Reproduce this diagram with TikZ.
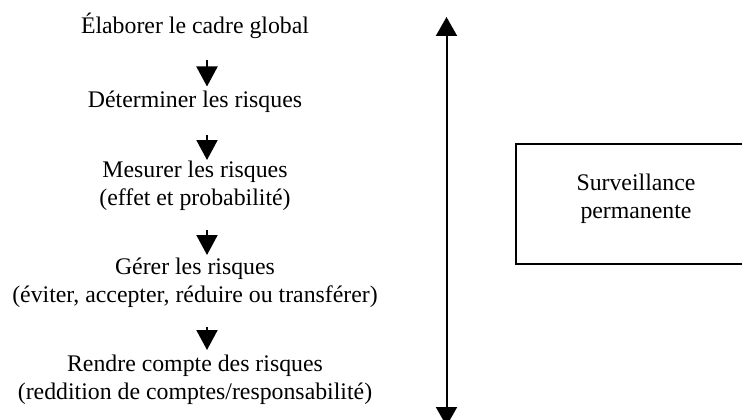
\documentclass[tikz,border=0pt]{standalone}
\usepackage{fontspec}
\setmainfont{Liberation Serif}
\usetikzlibrary{arrows.meta,calc}

\tikzset{
  stage/.style={inner sep=0pt, align=center, anchor=base,
    font=\fontsize{23.8}{28}\selectfont},
  flow/.style={line width=2pt, -{Triangle[width=21pt,length=20pt]}},
  cycle/.style={line width=2pt,
    {Triangle[width=21pt,length=19pt]}-{Triangle[width=21pt,length=19pt]}},
  framebox/.style={draw, line width=2pt}
}

\begin{document}
\begin{tikzpicture}[x=1pt,y=-1pt]
  \useasboundingbox (0,0) rectangle (742,420);
  \clip (0,0) rectangle (742,420);

  % process steps (base anchor sits on the last line)
  \node[stage] (s1) at (195,34)  {Élaborer le cadre global};
  \node[stage] (s2) at (195,107) {Déterminer les risques};
  \node[stage] (s3) at (195,205) {Mesurer les risques\\(effet et probabilité)};
  \node[stage] (s4) at (195,302) {Gérer les risques\\(éviter, accepter, réduire ou transférer)};
  \node[stage] (s5) at (195,399) {Rendre compte des risques\\(reddition de comptes/responsabilité)};

  % arrow ends between the steps
  \coordinate (a1) at (207,60);  \coordinate (b1) at (207,86.5);
  \coordinate (a2) at (207,135); \coordinate (b2) at (207,160);
  \coordinate (a3) at (207,230); \coordinate (b3) at (207,255);
  \coordinate (a4) at (207,327); \coordinate (b4) at (207,350);
  \draw[flow] (a1) -- (b1);
  \draw[flow] (a2) -- (b2);
  \draw[flow] (a3) -- (b3);
  \draw[flow] (a4) -- (b4);

  % continuous monitoring
  \coordinate (top) at (446.5,17);
  \coordinate (bot) at (446.5,426);
  \draw[cycle] (top) -- (bot);

  \draw[framebox] (515.5,144) rectangle (757,264);
  \node[stage] (mon) at (636,218) {Surveillance\\permanente};
\end{tikzpicture}
\end{document}
